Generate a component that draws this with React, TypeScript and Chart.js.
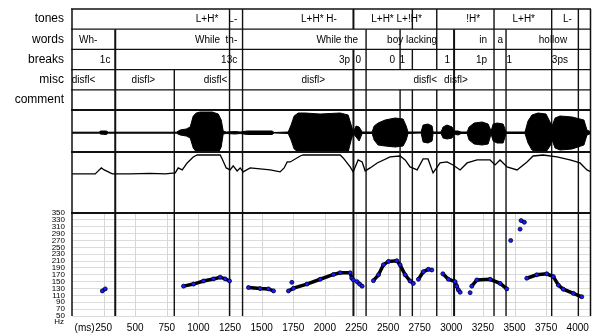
import React, { useEffect, useRef } from 'react';
import { Chart, registerables } from 'chart.js';

Chart.register(...registerables);

// ---------- data ----------
const tierNames = ['tones', 'words', 'breaks', 'misc', 'comment'];

// label text and the time (ms) where the text ends (right-aligned)
const toneLabels = ['L+H*', 'L-', 'L+H* H-', 'L+H* L+!H*', '!H*', 'L+H*', 'L-'];
const toneTimes = [1157, 1307, 2095, 2767, 3228, 3662, 3953];
const wordLabels = ['Wh-', 'While  th-', 'While the', 'boy lacking', 'in', 'a', 'hollow'];
const wordTimes = [200, 1307, 2263, 2888, 3283, 3409, 3916];
const breakLabels = ['1c', '13c', '3p', '0', '0', '1', '1', '1p', '1', '3ps'];
const breakTimes = [304, 1307, 2200, 2287, 2556, 2635, 2991, 3283, 3480, 3923];
const miscLabels = ['disfl<', 'disfl>', 'disfl<', 'disfl>', 'disfl<', 'disfl>'];
const miscTimes = [184, 658, 1228, 2002, 2888, 3130];

// boundary marks (ms)
const allMarks = [342, 809, 1246, 1349, 2226, 2326, 2595, 2692, 2885, 3022, 3338, 3433, 3794, 4005];
const heavyMarks = [342, 2226, 3022];
const toneMarks = [1246, 1349, 2226, 2692, 2885, 3338, 3794, 4005];
const wordMarks = [342, 1246, 1349, 2326, 2595, 2885, 3022, 3338, 3433, 3794, 4005];
const breakMarks = [342, 1246, 1349, 2226, 2326, 2595, 2692, 2885, 3022, 3338, 3433, 3794, 4005];
const miscMarks = [342, 809, 1246, 1349, 2226, 2326, 3022, 3338, 3433, 3794, 4005];
const commentMarks = allMarks;

// waveform envelope
const waveTimes = [0, 216, 224, 271, 287, 825, 856, 904, 935, 959, 983, 1014, 1109, 1157, 1180, 1196, 1220, 1291, 1330, 1386, 1583, 1599, 1710, 1733, 1757, 1789, 1844, 1963, 2121, 2184, 2208, 2224, 2247, 2271, 2295, 2374, 2390, 2421, 2477, 2556, 2619, 2643, 2658, 2761, 2777, 2816, 2848, 2856, 2919, 2935, 2966, 3006, 3022, 3054, 3077, 3125, 3141, 3181, 3244, 3291, 3315, 3331, 3362, 3410, 3433, 3583, 3607, 3638, 3686, 3749, 3781, 3797, 3821, 3860, 3955, 4049, 4073, 4105];
const waveTop = [0.5, 0.5, 1.7, 1.7, 0.5, 0.5, 2.7, 3.7, 5.7, 16.7, 19.7, 20.7, 20.7, 18.7, 12.7, 1.7, 0.7, 1.2, 0.7, 1.7, 1.7, 0.2, 0.7, 7.7, 16.7, 19.7, 19.7, 18.7, 19.7, 17.7, 7.7, 0.7, 6.7, 5.7, 0.7, 0.7, 6.7, 9.7, 12.7, 14.7, 13.7, 6.7, 0.7, 0.7, 7.7, 8.7, 6.7, 0.7, 0.7, 5.7, 7.7, 5.7, 1.7, 1.7, 0.7, 0.7, 5.7, 9.7, 10.7, 8.7, 1.7, 8.7, 9.7, 8.7, 0.7, 0.7, 11.7, 17.7, 19.7, 18.7, 10.7, 6.7, 14.7, 16.7, 15.7, 12.7, 2.7, 0.7];
const waveBottom = [-0.5, -0.5, -1.3, -1.8, -0.5, -0.5, -2.3, -3.3, -5.3, -15.3, -19.3, -20.3, -20.3, -20.3, -14.3, -1.3, -0.8, -1.3, -0.8, -1.8, -1.8, -0.3, -0.8, -7.3, -16.3, -19.3, -19.3, -21.3, -21.3, -19.3, -7.3, -0.8, -4.3, -8.3, -0.8, -0.8, -7.3, -12.3, -13.3, -14.3, -13.3, -7.3, -0.8, -0.3, -9.3, -10.3, -8.3, -0.8, -0.8, -5.3, -6.3, -5.3, -1.3, -2.3, -0.8, -0.8, -7.3, -11.3, -12.3, -11.3, -1.3, -8.3, -10.3, -10.3, -0.8, -0.8, -10.3, -17.3, -19.3, -19.3, -13.3, -7.3, -15.3, -17.3, -16.3, -12.3, -2.3, -0.8];

// energy trace
const energyTimes = [0, 184, 208, 232, 255, 287, 319, 461, 619, 738, 817, 840, 872, 911, 959, 990, 1172, 1188, 1220, 1251, 1275, 1306, 1330, 1354, 1409, 1488, 1567, 1646, 1678, 1702, 1726, 1805, 1828, 2121, 2145, 2200, 2224, 2263, 2295, 2319, 2358, 2414, 2516, 2595, 2635, 2674, 2730, 2777, 2816, 2856, 2911, 2966, 3014, 3070, 3125, 3204, 3307, 3346, 3386, 3441, 3520, 3599, 3647, 3726, 3836, 3939, 4018, 4073, 4105];
const energyValues = [39.3, 39.3, 42.3, 45.3, 43.3, 41.3, 39.3, 39.3, 39.8, 39.3, 40.3, 45.3, 43.3, 50.3, 56.3, 58.3, 58.3, 54.3, 45.3, 43.3, 47.3, 42.3, 45.3, 41.3, 45.3, 44.3, 43.3, 41.3, 45.3, 51.3, 51.3, 57.3, 58.3, 58.3, 55.3, 46.3, 41.3, 53.3, 51.3, 42.3, 45.3, 50.3, 56.3, 57.3, 53.3, 46.3, 43.3, 54.3, 54.3, 40.3, 50.3, 51.3, 48.3, 43.3, 50.3, 53.3, 53.3, 48.3, 53.3, 46.3, 43.3, 51.3, 57.3, 58.3, 56.3, 53.3, 50.3, 43.3, 41.3];

// pitch track (null = gap)
const pitchTimes = [240, 263, null, 882, 961, 1040, 1119, 1172, 1212, 1246, null, 1396, 1488, 1554, 1594, null, 1739, null, 1712, 1752, 1858, 1963, 2068, 2121, 2200, 2213, 2226, null, 2255, 2275, 2295, null, 2384, 2424, 2463, 2503, 2569, 2595, 2635, 2674, 2700, null, 2740, 2779, 2819, 2846, null, 2933, 2977, 3030, 3043, 3056, 3070, null, 3149, null, 3162, 3202, 3307, 3386, 3439, null, 3470, null, 3544, null, 3552, 3578, null, 3597, 3676, 3755, 3807, 3847, 3886, 3965, 4032];
const pitchHz = [123, 129, null, 137, 143, 152, 158, 163, 158, 152, null, 133, 130, 129, 123, null, 148, null, 123, 131, 143, 157, 171, 176, 176, 160, 155, null, 150, 143, 137, null, 153, 170, 199, 209, 211, 199, 170, 152, 145, null, 157, 179, 186, 184, null, 173, 157, 150, 137, 126, 119, null, 118, null, 137, 155, 157, 145, 129, null, 270, null, 303, null, 328, 323, null, 160, 170, 173, 165, 140, 128, 116, 106];

// axes
const xTicks = [250, 500, 750, 1000, 1250, 1500, 1750, 2000, 2250, 2500, 2750, 3000, 3250, 3500, 3750, 4000];
const xMax = 4105;
const pitchTicks = [50, 70, 90, 110, 130, 150, 170, 190, 210, 230, 250, 270, 290, 310, 330, 350];

// ---------- helpers ----------
const FONT = '"Liberation Sans", Arial, sans-serif';

function pairs(xs: (number | null)[], ys: (number | null)[]) {
  return xs.map((x, i) => ({ x: x === null ? NaN : x, y: ys[i] === null ? NaN : ys[i] })) as any[];
}

const overlay = {
  id: 'overlay',
  beforeDatasetsDraw(chart: any) {
    const { ctx, chartArea, scales } = chart;
    const x = scales.x;
    const pitch = scales.pitch;
    const tiers = scales.tiers;
    ctx.save();
    // pitch vertical grid
    ctx.strokeStyle = '#d6d6d6';
    ctx.lineWidth = 1;
    xTicks.forEach((v) => {
      const px = Math.round(x.getPixelForValue(v)) + 0.5;
      ctx.beginPath();
      ctx.moveTo(px, pitch.top);
      ctx.lineTo(px, pitch.bottom);
      ctx.stroke();
    });
    // mark lines
    const rowH = (tiers.bottom - tiers.top) / 5;
    const drawV = (m: number, y0: number, y1: number) => {
      const heavy = heavyMarks.includes(m);
      ctx.strokeStyle = '#111';
      ctx.lineWidth = heavy ? 2 : 1.4;
      const px = x.getPixelForValue(m);
      ctx.beginPath();
      ctx.moveTo(px, y0);
      ctx.lineTo(px, y1);
      ctx.stroke();
    };
    const rows = [toneMarks, wordMarks, breakMarks, miscMarks, commentMarks];
    rows.forEach((marks, i) => marks.forEach((m) => drawV(m, tiers.top + i * rowH, tiers.top + (i + 1) * rowH)));
    allMarks.forEach((m) => drawV(m, tiers.bottom, chartArea.bottom));
    ctx.restore();
  },
  afterDatasetsDraw(chart: any) {
    const { ctx, chartArea, scales } = chart;
    const x = scales.x;
    const tiers = scales.tiers;
    const wave = scales.wave;
    const energy = scales.energy;
    const pitch = scales.pitch;
    const rowH = (tiers.bottom - tiers.top) / 5;
    ctx.save();
    // horizontal lines
    ctx.strokeStyle = '#111';
    const hLine = (y: number, w: number) => {
      ctx.lineWidth = w;
      ctx.beginPath();
      ctx.moveTo(chartArea.left - 1, y);
      ctx.lineTo(chartArea.right, y);
      ctx.stroke();
    };
    hLine(tiers.top, 1.5);
    for (let i = 1; i <= 4; i++) hLine(tiers.top + i * rowH, 1.2);
    hLine(tiers.bottom, 2);
    hLine(wave.bottom, 2);
    hLine(energy.bottom, 2);
    // left / right borders
    ctx.lineWidth = 1.5;
    ctx.beginPath();
    ctx.moveTo(chartArea.left, chartArea.top);
    ctx.lineTo(chartArea.left, chartArea.bottom);
    ctx.moveTo(chartArea.right - 0.5, chartArea.top);
    ctx.lineTo(chartArea.right - 0.5, chartArea.bottom);
    ctx.stroke();

    // tier texts
    ctx.fillStyle = '#000';
    ctx.font = '10px ' + FONT;
    ctx.textAlign = 'right';
    ctx.textBaseline = 'middle';
    const rowsText: [string[], number[]][] = [
      [toneLabels, toneTimes],
      [wordLabels, wordTimes],
      [breakLabels, breakTimes],
      [miscLabels, miscTimes],
    ];
    rowsText.forEach(([labels, times], i) => {
      const cy = tiers.top + (i + 0.5) * rowH + 0.5;
      labels.forEach((t, j) => ctx.fillText(t, x.getPixelForValue(times[j]), cy));
    });

    // (ms) and Hz
    ctx.font = '10px ' + FONT;
    ctx.textAlign = 'right';
    ctx.fillText('(ms)', x.getPixelForValue(xTicks[0]) - 9, 328);
    ctx.font = '8px ' + FONT;
    ctx.textAlign = 'right';
    ctx.fillText('Hz', 64, pitch.bottom + 6);
    ctx.restore();
  },
};

export default function App() {
  const ref = useRef<HTMLCanvasElement | null>(null);
  useEffect(() => {
    if (!ref.current) return;
    Chart.defaults.font.family = FONT;
    const fixW = (s: any) => {
      s.width = 72;
      s.paddingTop = 0;
      s.paddingBottom = 0;
    };
    const chart = new Chart(ref.current, {
      type: 'scatter',
      data: {
        datasets: [
          {
            label: 'wave top',
            data: pairs(waveTimes, waveTop),
            yAxisID: 'wave',
            showLine: true,
            borderColor: '#000',
            backgroundColor: '#000',
            borderWidth: 1,
            pointRadius: 0,
            fill: '+1',
          } as any,
          {
            label: 'wave bottom',
            data: pairs(waveTimes, waveBottom),
            yAxisID: 'wave',
            showLine: true,
            borderColor: '#000',
            borderWidth: 1,
            pointRadius: 0,
            fill: false,
          },
          {
            label: 'energy',
            data: pairs(energyTimes, energyValues),
            yAxisID: 'energy',
            showLine: true,
            borderColor: '#000',
            borderWidth: 1.3,
            pointRadius: 0,
            fill: false,
          },
          {
            label: 'F0',
            data: pairs(pitchTimes, pitchHz),
            yAxisID: 'pitch',
            showLine: true,
            spanGaps: false,
            borderColor: '#000',
            borderWidth: 3.5,
            pointRadius: 2,
            pointBackgroundColor: '#1a1aff',
            pointBorderColor: '#000030',
            pointBorderWidth: 0.8,
            fill: false,
          },
        ],
      },
      options: {
        responsive: false,
        animation: false,
        events: [],
        layout: { autoPadding: false, padding: { top: 9, right: 1, left: 0, bottom: 0 } },
        plugins: { legend: { display: false }, tooltip: { enabled: false } },
        scales: {
          x: {
            type: 'linear',
            position: 'bottom',
            min: 0,
            max: xMax,
            afterBuildTicks: (s: any) => {
              s.ticks = xTicks.map((v) => ({ value: v }));
            },
            ticks: {
              autoSkip: false,
              maxRotation: 0,
              padding: 6,
              color: '#000',
              font: { size: 10 },
              callback: (v: any) => String(v),
            },
            grid: { display: false, drawTicks: false },
            border: { display: false },
            afterFit: (s: any) => {
              s.height = 19;
              s.paddingLeft = 0;
              s.paddingRight = 0;
            },
          },
          pitch: {
            type: 'linear',
            position: 'left',
            stack: 'panels',
            stackWeight: 103,
            min: pitchTicks[0],
            max: pitchTicks[pitchTicks.length - 1],
            afterBuildTicks: (s: any) => {
              s.ticks = pitchTicks.map((v) => ({ value: v }));
            },
            ticks: { autoSkip: false, padding: 7, color: '#000', font: { size: 8 }, callback: (v: any) => String(v) },
            grid: { color: '#dcdcdc', drawTicks: false },
            border: { display: false },
            afterFit: fixW,
          },
          energy: {
            type: 'linear',
            position: 'left',
            stack: 'panels',
            stackWeight: 61,
            min: 0,
            max: 61.3,
            ticks: { display: false },
            grid: { display: false, drawTicks: false },
            border: { display: false },
            afterFit: fixW,
          },
          wave: {
            type: 'linear',
            position: 'left',
            stack: 'panels',
            stackWeight: 42,
            min: -19.3,
            max: 22.7,
            ticks: { display: false },
            grid: { display: false, drawTicks: false },
            border: { display: false },
            afterFit: fixW,
          },
          tiers: {
            type: 'category',
            labels: tierNames,
            position: 'left',
            stack: 'panels',
            stackWeight: 101,
            reverse: false,
            offset: true,
            ticks: { padding: 8, autoSkip: false, color: '#000', font: { size: 12 } },
            grid: { display: false, drawTicks: false },
            border: { display: false },
            afterFit: fixW,
          },
        } as any,
      },
      plugins: [overlay],
    });
    return () => chart.destroy();
  }, []);
  return (
    <div style={{ position: 'absolute', left: 0, top: 0, width: 592, height: 335, background: '#fff' }}>
      <canvas ref={ref} width={592} height={335} style={{ display: 'block' }} />
    </div>
  );
}
